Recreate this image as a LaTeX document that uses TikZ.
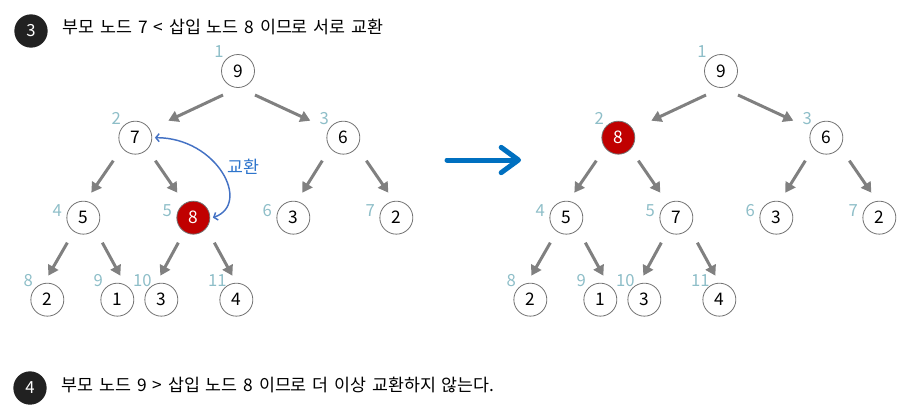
\documentclass[tikz,border=0pt]{standalone}
\usepackage{fontspec}
\setmainfont{Noto Sans CJK KR}[WordSpace=1.5]
\usepackage{tikz}
\usetikzlibrary{shapes.geometric, arrows.meta, positioning}
\definecolor{nodered}{RGB}{192,0,0}
\definecolor{idxblue}{RGB}{142,190,200}
\definecolor{swapblue}{RGB}{68,114,196}
\definecolor{labelblue}{RGB}{46,117,204}
\definecolor{bigblue}{RGB}{0,112,192}
\definecolor{edgegray}{RGB}{128,128,128}
\tikzstyle{heapnode} = [circle, minimum size=24.75pt, inner sep=0pt, draw=black!55, line width=0.6pt, fill=white, font=\fontsize{13}{15}\selectfont]
\tikzstyle{newnode} = [heapnode, fill=nodered, text=white]
\tikzstyle{stepnum} = [circle, minimum size=25pt, inner sep=0pt, fill=black!87, text=white, font=\fontsize{12.5}{14}\selectfont]
\tikzstyle{steptext} = [inner sep=0pt, font=\fontsize{13}{15}\selectfont]
\tikzstyle{idx} = [text=idxblue, anchor=center, inner sep=0pt, font=\fontsize{12.5}{14}\selectfont]
\tikzstyle{swaplabel} = [text=labelblue, inner sep=0pt, font=\fontsize{13}{15}\selectfont]
\tikzstyle{arrow} = [edgegray, line width=2.25pt, -{Triangle[length=7.5pt,width=8.5pt]}]
\tikzstyle{swaparrow} = [swapblue, line width=1.1pt, {Straight Barb[length=2.5pt,width=6pt]}-{Straight Barb[length=2.5pt,width=6pt]}]
\tikzstyle{bigarrow} = [bigblue, line width=3.75pt, line cap=round, -{Straight Barb[length=13pt,width=19pt,line cap=round,line join=round]}]

\begin{document}
\begin{tikzpicture}[x=0.75pt, y=-0.75pt, node distance=50pt, label distance=7.5pt]
\useasboundingbox (0,0) rectangle (898,408);
\node (step3) [stepnum] at (31,31) {3};
\node (text3) [steptext, right=11pt of step3, yshift=3pt] {부모 노드 7 < 삽입 노드 8 이므로 서로 교환};
\node (step4) [stepnum] at (30,388) {4};
\node (text4) [steptext, right=11pt of step4, yshift=2pt] {부모 노드 9 > 삽입 노드 8 이므로 더 이상 교환하지 않는다.};

% before the swap
\node (l1) [heapnode, label={[idx]135:1}] at (238,71) {9};
\node (l2) [heapnode, below of=l1, xshift=-77pt, label={[idx]135:2}] {7};
\node (l3) [heapnode, below of=l1, xshift=79pt, label={[idx]135:3}] {6};
\node (l4) [heapnode, below of=l2, yshift=-10pt, xshift=-39pt, label={[idx]165:4}] {5};
\node (l5) [newnode, below of=l2, yshift=-10pt, xshift=43.5pt, label={[idx]165:5}] {8};
\node (l6) [heapnode, below of=l3, yshift=-10pt, xshift=-37.5pt, label={[idx]165:6}] {3};
\node (l7) [heapnode, below of=l3, yshift=-10pt, xshift=39.75pt, label={[idx]165:7}] {2};
\node (l8) [heapnode, below of=l4, yshift=-11.5pt, xshift=-27pt, label={[idx]135:8}] {2};
\node (l9) [heapnode, below of=l4, yshift=-11.5pt, xshift=25.5pt, label={[idx]135:9}] {1};
\node (l10) [heapnode, below of=l5, yshift=-11.5pt, xshift=-24pt, label={[idx]135:10}] {3};
\node (l11) [heapnode, below of=l5, yshift=-11.5pt, xshift=32.25pt, label={[idx]135:11}] {4};

\draw [arrow] ([shift={(-15,24)}]l1.center) -- ([shift={(33,-17)}]l2.center);
\draw [arrow] ([shift={(17,24)}]l1.center) -- ([shift={(-33,-17)}]l3.center);
\draw [arrow] ([shift={(-22,23)}]l2.center) -- ([shift={(8,-25)}]l4.center);
\draw [arrow] ([shift={(20,23)}]l2.center) -- ([shift={(-16,-25)}]l5.center);
\draw [arrow] ([shift={(-21,23)}]l3.center) -- ([shift={(9,-25)}]l6.center);
\draw [arrow] ([shift={(23,23)}]l3.center) -- ([shift={(-8,-25)}]l7.center);
\draw [arrow] ([shift={(-16,25)}]l4.center) -- ([shift={(1,-24)}]l8.center);
\draw [arrow] ([shift={(19,25)}]l4.center) -- ([shift={(3,-24)}]l9.center);
\draw [arrow] ([shift={(-15,25)}]l5.center) -- ([shift={(-1,-24)}]l10.center);
\draw [arrow] ([shift={(21,25)}]l5.center) -- ([shift={(-4,-24)}]l11.center);
\draw [swaparrow] ([xshift=2pt]l2.east) .. controls +(62,0) and +(39,-14) .. node [swaplabel, pos=0.45, right=7pt] (swaptext) {교환} ([xshift=2pt]l5.east);

\coordinate (go1) at (447,160);
\coordinate (go2) at (521,160);
\draw [bigarrow] (go1) -- (go2);

% after the swap
\node (r1) [heapnode, label={[idx]135:1}] at (721,71) {9};
\node (r2) [newnode, below of=r1, xshift=-77pt, label={[idx]135:2}] {8};
\node (r3) [heapnode, below of=r1, xshift=79pt, label={[idx]135:3}] {6};
\node (r4) [heapnode, below of=r2, yshift=-10pt, xshift=-39pt, label={[idx]165:4}] {5};
\node (r5) [heapnode, below of=r2, yshift=-10pt, xshift=43.5pt, label={[idx]165:5}] {7};
\node (r6) [heapnode, below of=r3, yshift=-10pt, xshift=-37.5pt, label={[idx]165:6}] {3};
\node (r7) [heapnode, below of=r3, yshift=-10pt, xshift=39.75pt, label={[idx]165:7}] {2};
\node (r8) [heapnode, below of=r4, yshift=-11.5pt, xshift=-27pt, label={[idx]135:8}] {2};
\node (r9) [heapnode, below of=r4, yshift=-11.5pt, xshift=25.5pt, label={[idx]135:9}] {1};
\node (r10) [heapnode, below of=r5, yshift=-11.5pt, xshift=-24pt, label={[idx]135:10}] {3};
\node (r11) [heapnode, below of=r5, yshift=-11.5pt, xshift=32.25pt, label={[idx]135:11}] {4};

\draw [arrow] ([shift={(-15,24)}]r1.center) -- ([shift={(33,-17)}]r2.center);
\draw [arrow] ([shift={(17,24)}]r1.center) -- ([shift={(-33,-17)}]r3.center);
\draw [arrow] ([shift={(-22,23)}]r2.center) -- ([shift={(8,-25)}]r4.center);
\draw [arrow] ([shift={(20,23)}]r2.center) -- ([shift={(-16,-25)}]r5.center);
\draw [arrow] ([shift={(-21,23)}]r3.center) -- ([shift={(9,-25)}]r6.center);
\draw [arrow] ([shift={(23,23)}]r3.center) -- ([shift={(-8,-25)}]r7.center);
\draw [arrow] ([shift={(-16,25)}]r4.center) -- ([shift={(1,-24)}]r8.center);
\draw [arrow] ([shift={(19,25)}]r4.center) -- ([shift={(3,-24)}]r9.center);
\draw [arrow] ([shift={(-15,25)}]r5.center) -- ([shift={(-1,-24)}]r10.center);
\draw [arrow] ([shift={(21,25)}]r5.center) -- ([shift={(-4,-24)}]r11.center);
\end{tikzpicture}
\end{document}
